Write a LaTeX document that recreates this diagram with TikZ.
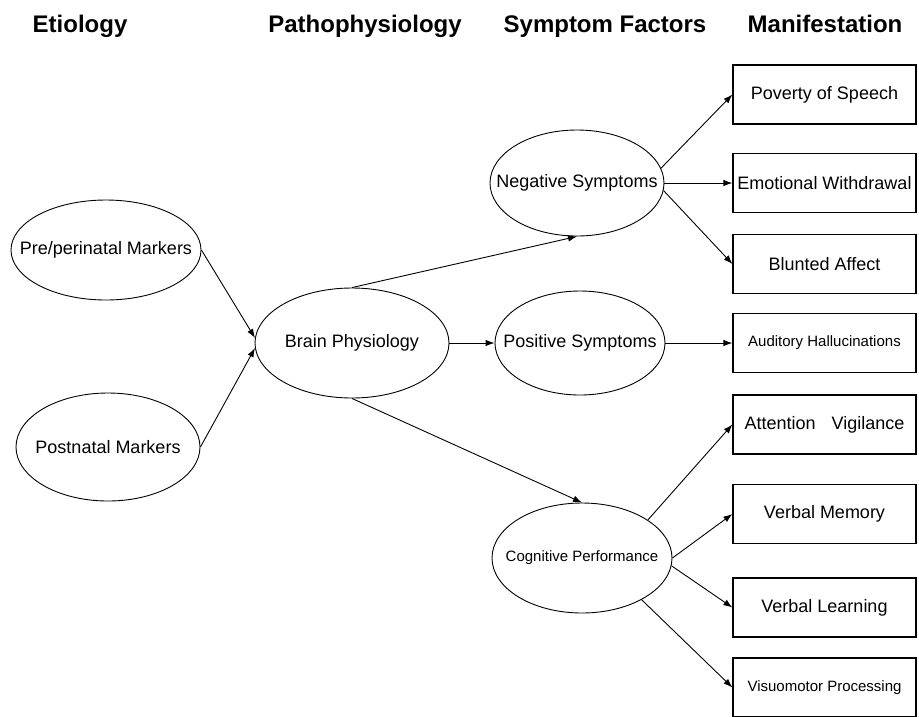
\documentclass[tikz,border=0pt]{standalone}
\usepackage{fontspec}
\setmainfont{Liberation Sans}
\usetikzlibrary{shapes.geometric,arrows.meta}
% zero-width label so the ellipse keeps its given size
\newcommand\snuglabel[1]{\makebox[0pt]{#1}}
\begin{document}
\begin{tikzpicture}[x=1pt,y=-1pt,
  header/.style={font=\fontsize{24}{28}\selectfont\bfseries, anchor=base},
  factor/.style={ellipse, draw, line width=0.9pt, inner sep=0pt,
    font=\fontsize{18}{20}\selectfont},
  sign/.style={rectangle, draw, line width=1.2pt, minimum width=183pt,
    minimum height=59pt, inner sep=0pt, font=\fontsize{18}{20}\selectfont},
  small/.style={font=\fontsize{15}{17}\selectfont},
  link/.style={line width=0.9pt, -{Latex[length=9pt,width=6.5pt]}},
]
\useasboundingbox (0,0) rectangle (919,716);

% column headings
\node[header] (hEt)  at (80,32)  {Etiology};
\node[header] (hPa)  at (365,32) {Pathophysiology};
\node[header] (hSy)  at (605,32) {Symptom Factors};
\node[header] (hMa)  at (825,32) {Manifestation};

% latent factors
\node[factor, minimum width=190pt, minimum height=100pt] (pre)   at (106,250) {\snuglabel{Pre/perinatal Markers}};
\node[factor, minimum width=184pt, minimum height=108pt] (post)  at (108,447) {\snuglabel{Postnatal Markers}};
\node[factor, minimum width=194pt, minimum height=110pt] (brain) at (352,343) {\snuglabel{Brain Physiology}};
\node[factor, minimum width=174pt, minimum height=106pt] (neg)   at (577,183) {\snuglabel{Negative Symptoms}};
\node[factor, minimum width=170pt, minimum height=104pt] (pos)   at (580,343) {\snuglabel{Positive Symptoms}};
\node[factor, small, minimum width=180pt, minimum height=110pt] (cog) at (582,558) {\snuglabel{Cognitive Performance}};

% observed manifestations
\node[sign] (pov)  at (824.5,94.5)  {Poverty of Speech};
\node[sign] (emo)  at (824.5,183)   {Emotional Withdrawal};
\node[sign] (blu)  at (824.5,264)   {Blunted Affect};
\node[sign, small] (aud) at (824.5,343) {Auditory Hallucinations};
\node[sign] (att)  at (824.5,424.5) {Attention\hspace{16pt}Vigilance};
\node[sign] (mem)  at (824.5,514)   {Verbal Memory};
\node[sign] (lea)  at (824.5,607.5) {Verbal Learning};
\node[sign, small] (vis) at (824.5,687.5) {Visuomotor Processing};

% paths
\draw[link] (pre.east)  -- (brain.177);
\draw[link] (post.east) -- (brain.183);
\draw[link] (brain.north) -- (neg.south);
\draw[link] (brain.east)  -- (pos.west);
\draw[link] (brain.south) -- (cog.north);

\draw[link] (neg.10)   -- (pov.west);
\draw[link] (neg.east) -- (emo.west);
\draw[link] (neg.-5)   -- (blu.west);
\draw[link] (pos.east) -- (aud.west);

\draw[link] (cog.30)   -- (att.west);
\draw[link] (cog.east) -- (mem.west);
\draw[link] (cog.-5)   -- (lea.west);
\draw[link] (cog.-35)  -- (vis.west);
\end{tikzpicture}
\end{document}
